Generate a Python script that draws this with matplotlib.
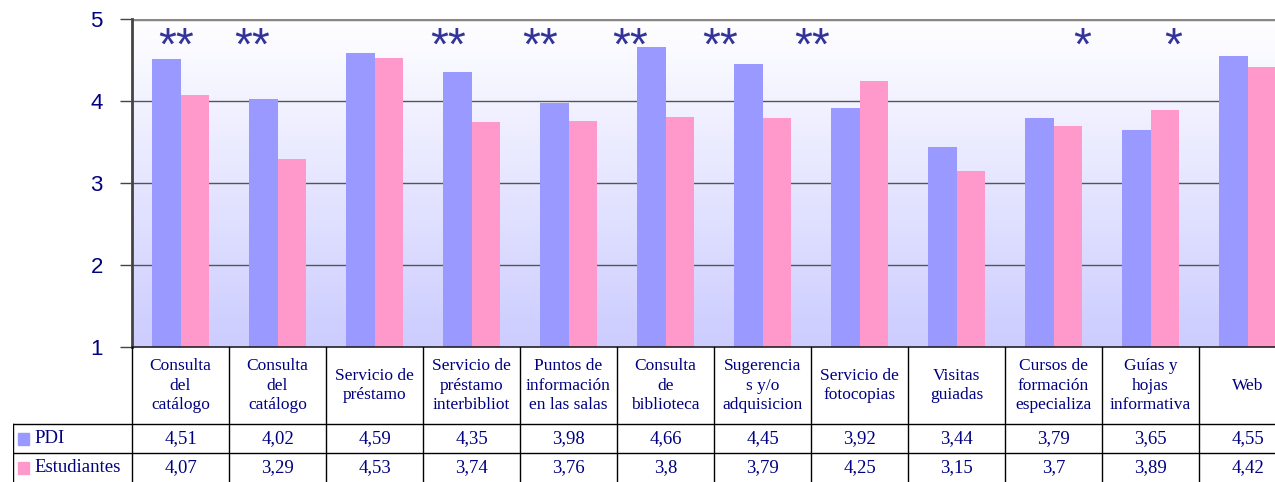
import numpy as np
import matplotlib
matplotlib.use('Agg')
import matplotlib.pyplot as plt
from matplotlib.colors import LinearSegmentedColormap
from matplotlib.patches import Rectangle

# Valoración media de los servicios (escala 1-5)
servicios = ['Consulta\ndel\ncatálogo', 'Consulta\ndel\ncatálogo', 'Servicio de\npréstamo',
             'Servicio de\npréstamo\ninterbibliot', 'Puntos de\ninformación\nen las salas',
             'Consulta\nde\nbiblioteca', 'Sugerencia\ns y/o\nadquisicion', 'Servicio de\nfotocopias',
             'Visitas\nguiadas', 'Cursos de\nformación\nespecializa', 'Guías y\nhojas\ninformativa', 'Web']
pdi = [4.51, 4.02, 4.59, 4.35, 3.98, 4.66, 4.45, 3.92, 3.44, 3.79, 3.65, 4.55]
estudiantes = [4.07, 3.29, 4.53, 3.74, 3.76, 3.8, 3.79, 4.25, 3.15, 3.7, 3.89, 4.42]
significacion = ['**', '**', '', '**', '**', '**', '**', '**', '', '*', '*', '']
series = ['PDI', 'Estudiantes']

col_pdi = '#9999FF'
col_est = '#FF99CC'
azul = '#000080'

W, H = 1275, 482
fig = plt.figure(figsize=(W / 100, H / 100), dpi=100)

# zona del gráfico (la última columna queda recortada por el borde)
ax = fig.add_axes([132 / W, (H - 347) / H, 1164 / W, 328 / H])
n = len(pdi)
x = np.arange(n)

fondo = LinearSegmentedColormap.from_list('fondo', ['#FFFFFF', '#CCCCFF'])
ax.imshow(np.linspace(0, 1, 256).reshape(-1, 1), cmap=fondo, aspect='auto',
          extent=(-0.5, n - 0.5, 1, 5), zorder=0)

for v in [2, 3, 4]:
    ax.axhline(v, color='#555555', lw=1, zorder=1)
ax.axhline(5, color='#888888', lw=2.5, zorder=1)

w = 0.29
ax.bar(x - w / 2, pdi, w, color=col_pdi, zorder=2)
ax.bar(x + w / 2, estudiantes, w, color=col_est, zorder=2)

# asteriscos de significación, colocados a mano sobre cada grupo
desplaz = [-0.05, -0.26, 0, -0.24, -0.29, -0.37, -0.44, -0.49, 0, 0.30, 0.23, 0]
for i, s in enumerate(significacion):
    if s:
        ax.text(i + desplaz[i], 4.5, s, ha='center', va='baseline', fontsize=33,
                color='#333399', family='Liberation Sans', zorder=3)

ax.set_xlim(-0.5, n - 0.5)
ax.set_ylim(1, 5)
ax.set_yticks([1, 2, 3, 4, 5])
ax.set_xticks([])
ax.tick_params(axis='y', direction='out', length=9, width=1, color='#444444',
               labelsize=16, labelcolor=azul, pad=12)
for lab in ax.get_yticklabels():
    lab.set_family('Liberation Sans')
for s in ['top', 'right']:
    ax.spines[s].set_visible(False)
ax.spines['left'].set_color('#444444')
ax.spines['left'].set_linewidth(2)
ax.spines['bottom'].set_color('#222222')
ax.spines['bottom'].set_linewidth(1.2)

# tabla de datos bajo el gráfico
tab = fig.add_axes([13 / W, 0, (1296 - 13) / W, 135 / H])
x0 = -0.5 - 119 / 97
tab.set_xlim(x0, n - 0.5)
tab.set_ylim(135, 0)
tab.axis('off')

for i in range(n + 1):
    tab.plot([i - 0.5, i - 0.5], [0, 135], color='black', lw=1)
tab.plot([x0, x0], [77, 135], color='black', lw=1)
for yy in [77, 106]:
    tab.plot([x0, n - 0.5], [yy, yy], color='black', lw=1)

fmt = lambda v: f'{v:g}'.replace('.', ',')
for i in range(n):
    tab.text(i, 38.5, servicios[i], ha='center', va='center', fontsize=12.5,
             linespacing=1.3, color=azul, family='Liberation Serif')
    tab.text(i, 91.5, fmt(pdi[i]), ha='center', va='center', fontsize=13.5,
             color=azul, family='Liberation Serif')
    tab.text(i, 120.5, fmt(estudiantes[i]), ha='center', va='center', fontsize=13.5,
             color=azul, family='Liberation Serif')

for yy, nombre, c in [(91.5, series[0], col_pdi), (120.5, series[1], col_est)]:
    tab.add_patch(Rectangle((x0 + 0.05, yy - 5.5), 0.12, 12, color=c, clip_on=False))
    tab.text(x0 + 0.22, yy, nombre, ha='left', va='center', fontsize=13.5,
             color=azul, family='Liberation Serif')

fig.savefig('out.png', dpi=100)
